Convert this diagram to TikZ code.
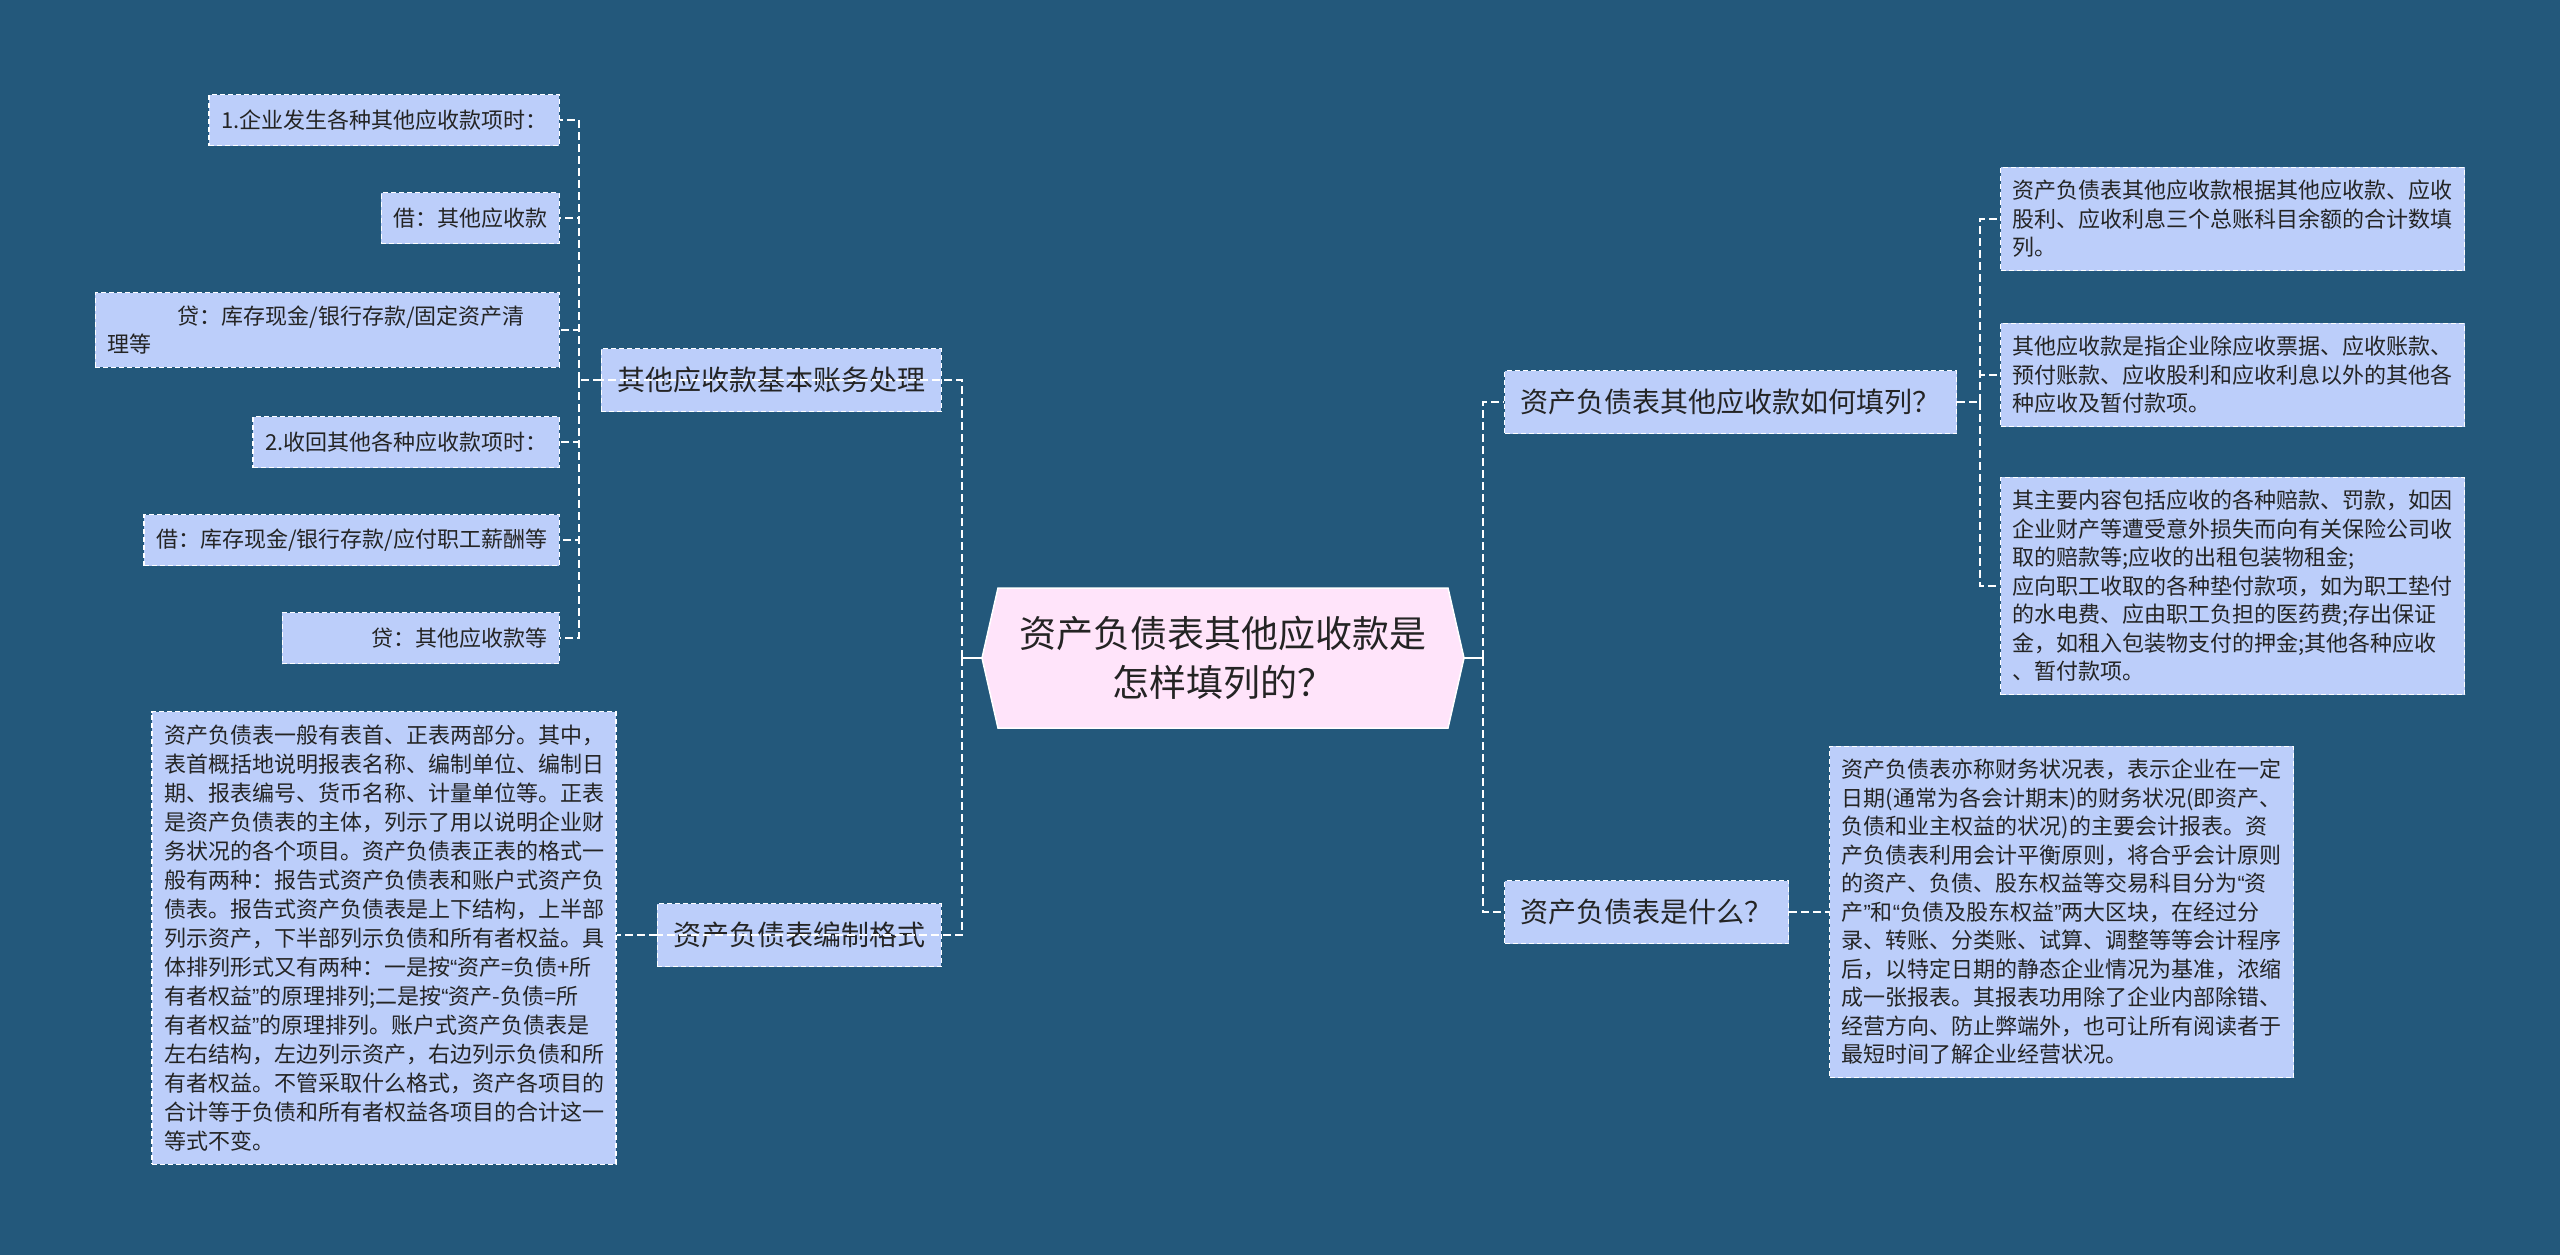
\documentclass[tikz,border=0pt]{standalone}
\usepackage{fontspec}
\setmainfont{Noto Sans CJK SC}
\newfontfamily\quotefont{Liberation Sans}
\newcommand{\openq}{{\quotefont “}}
\newcommand{\closeq}{{\quotefont ”}}
\usepackage{tikz}
\usepackage{xcolor}

\definecolor{bgblue}{RGB}{35,88,123}
\definecolor{leafblue}{RGB}{188,206,250}
\definecolor{rootpink}{RGB}{255,228,250}
\definecolor{inktext}{RGB}{36,36,36}

\tikzset{
  leaf/.style={draw=white, line width=1.3pt, dash pattern=on 5pt off 3pt, fill=leafblue,
    text=inktext, inner xsep=12pt, inner ysep=13pt, minimum height=51pt,
    font=\fontsize{22}{28.5}\selectfont},
  para/.style={leaf, text width=440pt, align=left},
  topic/.style={leaf, inner xsep=16pt, minimum height=63pt, font=\fontsize{28}{34}\selectfont},
  link/.style={draw=white, line width=2pt, dash pattern=on 8pt off 4pt},
  stem/.style={draw=white, line width=2.5pt},
}

\begin{document}
\begin{tikzpicture}[x=1pt,y=-1pt]
\useasboundingbox (0,0) rectangle (2560,1255);
\fill[bgblue] (0,0) rectangle (2560,1255);

% root
\coordinate (rootc) at (1223,658);
\coordinate (rootw) at (982,658);
\coordinate (roote) at (1464,658);
\filldraw[fill=rootpink, draw=white, line width=1.5pt] (998,588) -- (1448,588) -- (roote)
  -- (1448,728) -- (998,728) -- (rootw) -- cycle;
\node[align=center, text=inktext, font=\fontsize{37}{49}\selectfont] (root) at (rootc)
  {资产负债表其他应收款是\\怎样填列的？};

% topics
\node[topic, anchor=east] (acct) at (942,380) {其他应收款基本账务处理};
\node[topic, anchor=east] (fmt) at (942,935) {资产负债表编制格式};
\node[topic, anchor=west] (how) at (1504,402) {资产负债表其他应收款如何填列？};
\node[topic, anchor=west] (what) at (1504,912) {资产负债表是什么？};

% entries under acct
\node[leaf, anchor=east] (d1) at (560,120) {1.企业发生各种其他应收款项时：};
\node[leaf, anchor=east] (d2) at (560,218) {借：其他应收款};
\node[para, anchor=east] (d3) at (560,330) {\hspace*{3.2em}贷：库存现金/银行存款/固定资产清\\理等};
\node[leaf, anchor=east] (d4) at (560,442) {2.收回其他各种应收款项时：};
\node[leaf, anchor=east] (d5) at (560,540) {借：库存现金/银行存款/应付职工薪酬等};
\node[leaf, anchor=east] (d6) at (560,638) {\hspace*{3.5em}贷：其他应收款等};

\node[para, font=\fontsize{22}{29}\selectfont] (fbody) at (384,938) {资产负债表一般有表首、正表两部分。其中，\\表首概括地说明报表名称、编制单位、编制日\\期、报表编号、货币名称、计量单位等。正表\\是资产负债表的主体，列示了用以说明企业财\\务状况的各个项目。资产负债表正表的格式一\\般有两种：报告式资产负债表和账户式资产负\\债表。报告式资产负债表是上下结构，上半部\\列示资产，下半部列示负债和所有者权益。具\\体排列形式又有两种：一是按\openq 资产=负债+所\\有者权益\closeq 的原理排列;二是按\openq 资产\mbox{-}负债=所\\有者权益\closeq 的原理排列。账户式资产负债表是\\左右结构，左边列示资产，右边列示负债和所\\有者权益。不管采取什么格式，资产各项目的\\合计等于负债和所有者权益各项目的合计这一\\等式不变。};

\node[para, anchor=west] (r1) at (2000,219) {资产负债表其他应收款根据其他应收款、应收\\股利、应收利息三个总账科目余额的合计数填\\列。};
\node[para, anchor=west] (r2) at (2000,375) {其他应收款是指企业除应收票据、应收账款、\\预付账款、应收股利和应收利息以外的其他各\\种应收及暂付款项。};
\node[para, anchor=west] (r3) at (2000,586) {其主要内容包括应收的各种赔款、罚款，如因\\企业财产等遭受意外损失而向有关保险公司收\\取的赔款等;应收的出租包装物租金;\\应向职工收取的各种垫付款项，如为职工垫付\\的水电费、应由职工负担的医药费;存出保证\\金，如租入包装物支付的押金;其他各种应收\\、暂付款项。};

\node[para, anchor=west] (wbody) at (1829,912) {资产负债表亦称财务状况表，表示企业在一定\\日期(通常为各会计期末)的财务状况(即资产、\\负债和业主权益的状况)的主要会计报表。资\\产负债表利用会计平衡原则，将合乎会计原则\\的资产、负债、股东权益等交易科目分为\openq 资\\产\closeq 和\openq 负债及股东权益\closeq 两大区块，在经过分\\录、转账、分类账、试算、调整等等会计程序\\后，以特定日期的静态企业情况为基准，浓缩\\成一张报表。其报表功用除了企业内部除错、\\经营方向、防止弊端外，也可让所有阅读者于\\最短时间了解企业经营状况。};

% connectors
\coordinate (lj) at (962,658);
\coordinate (rj) at (1483,658);
\coordinate (aj) at (579,380);
\coordinate (hj) at (1980,402);

\draw[stem] (rootw) -- (lj);
\draw[link] (lj) |- (acct.west);
\draw[link] (lj) |- (fmt.west);
\draw[stem] (roote) -- (rj);
\draw[link] (rj) |- (how.west);
\draw[link] (rj) |- (what.west);

\draw[link] (acct.west) -- (aj);
\foreach \n in {d1,d2,d3,d4,d5,d6}
  \draw[link] (aj) |- (\n.east);
\draw[link] (fmt.west) -- (fmt.west -| fbody.east);

\draw[link] (how.east) -- (hj);
\foreach \n in {r1,r2,r3}
  \draw[link] (hj) |- (\n.west);
\draw[link] (what.east) -- (what.east -| wbody.west);
\end{tikzpicture}
\end{document}
